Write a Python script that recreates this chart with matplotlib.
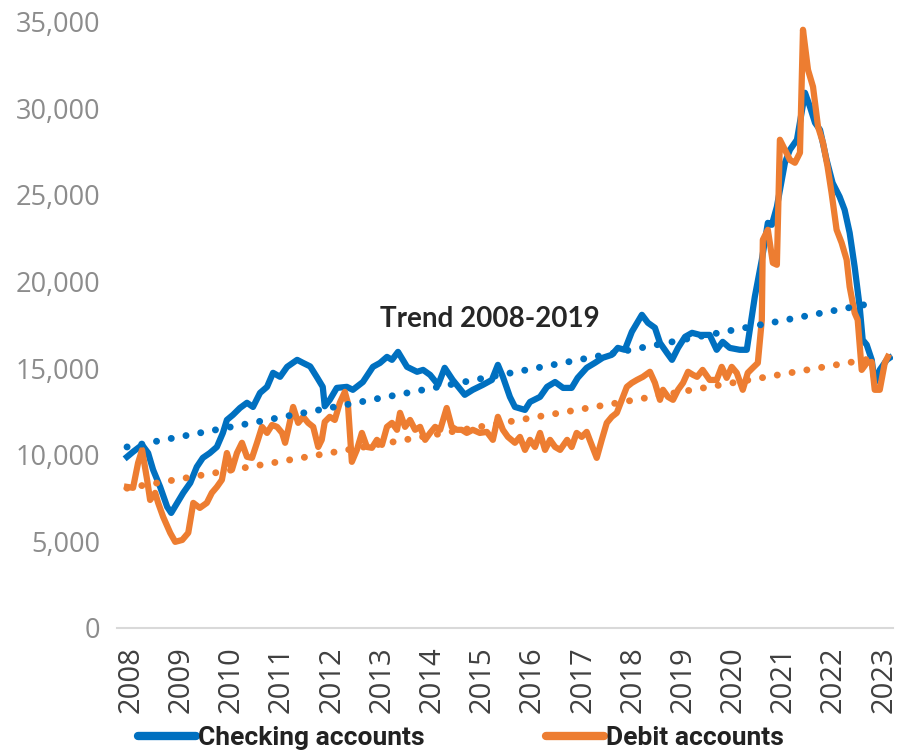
import matplotlib
matplotlib.use("Agg")
import matplotlib.pyplot as plt
from matplotlib.lines import Line2D
from matplotlib.ticker import FuncFormatter

# monthly-ish readings, x in decimal years
chk_x = [2007.92, 2008.04, 2008.22, 2008.34, 2008.44, 2008.58, 2008.72, 2008.80, 2008.92, 2009.04,
         2009.18, 2009.31, 2009.43, 2009.57, 2009.71, 2009.83, 2009.91, 2010.03, 2010.17, 2010.31,
         2010.43, 2010.57, 2010.71, 2010.83, 2010.97, 2011.11, 2011.31, 2011.43, 2011.57, 2011.71,
         2011.82, 2011.86, 2011.96, 2012.10, 2012.30, 2012.42, 2012.62, 2012.82, 2012.96, 2013.10,
         2013.20, 2013.32, 2013.50, 2013.70, 2013.82, 2013.96, 2014.12, 2014.25, 2014.41, 2014.65,
         2014.81, 2015.01, 2015.19, 2015.31, 2015.41, 2015.55, 2015.65, 2015.85, 2015.95, 2016.15,
         2016.29, 2016.45, 2016.61, 2016.78, 2016.90, 2017.08, 2017.24, 2017.40, 2017.58, 2017.70,
         2017.84, 2017.98, 2018.18, 2018.30, 2018.44, 2018.54, 2018.68, 2018.78, 2018.90, 2019.04,
         2019.18, 2019.34, 2019.53, 2019.67, 2019.79, 2019.93, 2020.13, 2020.27, 2020.33, 2020.43,
         2020.57, 2020.69, 2020.77, 2020.87, 2021.03, 2021.13, 2021.27, 2021.43, 2021.53, 2021.63,
         2021.73, 2021.86, 2021.98, 2022.12, 2022.22, 2022.32, 2022.42, 2022.52, 2022.58, 2022.66,
         2022.76, 2022.82, 2022.92, 2023.06, 2023.12]
chk_y = [9880, 10170, 10570, 10100, 9126, 8144, 6990, 6640, 7220, 7800,
         8375, 9300, 9820, 10100, 10450, 11260, 12010, 12300, 12700, 13000,
         12760, 13570, 13920, 14730, 14500, 15075, 15480, 15300, 15100, 14450,
         13920, 12800, 13170, 13860, 13920, 13750, 14200, 15075, 15300, 15650,
         15480, 15940, 15075, 14790, 14900, 14610, 14035, 15020, 14320, 13460,
         13750, 14035, 14320, 15190, 14500, 13340, 12760, 12590, 13050, 13340,
         13920, 14200, 13860, 13860, 14440, 15020, 15300, 15600, 15770, 16170,
         16060, 17100, 18080, 17620, 17330, 16460, 15880, 15480, 16170, 16810,
         17040, 16920, 16920, 16060, 16520, 16170, 16060, 16060, 17210, 19120,
         21260, 23390, 23280, 24320, 26860, 27610, 28190, 30900, 30090, 29170,
         28760, 27030, 25700, 24900, 24140, 22820, 20850, 18540, 16630, 16350,
         15480, 14150, 14900, 15480, 15600]

deb_x = [2007.92, 2008.04, 2008.14, 2008.22, 2008.32, 2008.38, 2008.48, 2008.54, 2008.64, 2008.78,
         2008.88, 2009.02, 2009.14, 2009.24, 2009.37, 2009.51, 2009.61, 2009.71, 2009.81, 2009.91,
         2010.01, 2010.11, 2010.21, 2010.31, 2010.41, 2010.51, 2010.61, 2010.71, 2010.81, 2010.91,
         2011.01, 2011.07, 2011.13, 2011.23, 2011.33, 2011.43, 2011.53, 2011.63, 2011.73, 2011.80,
         2011.86, 2011.96, 2012.06, 2012.16, 2012.26, 2012.32, 2012.40, 2012.50, 2012.60, 2012.70,
         2012.80, 2012.90, 2013.00, 2013.10, 2013.20, 2013.30, 2013.36, 2013.46, 2013.56, 2013.66,
         2013.76, 2013.86, 2013.96, 2014.06, 2014.16, 2014.29, 2014.39, 2014.49, 2014.59, 2014.69,
         2014.81, 2014.95, 2015.09, 2015.21, 2015.31, 2015.41, 2015.51, 2015.65, 2015.75, 2015.85,
         2015.95, 2016.05, 2016.15, 2016.25, 2016.35, 2016.45, 2016.55, 2016.69, 2016.78, 2016.88,
         2016.98, 2017.08, 2017.14, 2017.28, 2017.38, 2017.48, 2017.58, 2017.68, 2017.78, 2017.88,
         2017.98, 2018.08, 2018.20, 2018.34, 2018.44, 2018.54, 2018.60, 2018.70, 2018.80, 2018.90,
         2019.00, 2019.10, 2019.20, 2019.28, 2019.39, 2019.53, 2019.67, 2019.77, 2019.87, 2019.97,
         2020.07, 2020.19, 2020.29, 2020.39, 2020.49, 2020.57, 2020.59, 2020.69, 2020.79, 2020.87,
         2020.93, 2021.03, 2021.13, 2021.23, 2021.33, 2021.39, 2021.49, 2021.59, 2021.69, 2021.79,
         2021.88, 2021.96, 2022.06, 2022.16, 2022.26, 2022.32, 2022.42, 2022.48, 2022.56, 2022.66,
         2022.76, 2022.82, 2022.92, 2023.02, 2023.08]
deb_y = [8144, 8090, 9530, 10280, 8550, 7390, 7800, 7220, 6410, 5490,
         4970, 5080, 5490, 7220, 6930, 7220, 7800, 8140, 8550, 10100,
         9130, 10100, 10690, 9880, 9820, 10690, 11610, 11260, 11720, 11610,
         11260, 10690, 11440, 12760, 11840, 12190, 11840, 11610, 10450, 10860,
         11900, 12190, 12010, 13000, 13630, 13000, 9590, 10280, 11260, 10450,
         10400, 10860, 10570, 11610, 11840, 11440, 12420, 11610, 12010, 11440,
         11610, 10860, 11260, 11610, 11440, 12700, 11610, 11440, 11440, 11260,
         11440, 11260, 11320, 10860, 12190, 11440, 11030, 10690, 11030, 10280,
         10860, 10450, 11260, 10280, 10860, 10450, 10280, 10860, 10450, 11260,
         11030, 11320, 10860, 9820, 10860, 11840, 12190, 12420, 13170, 13920,
         14150, 14320, 14500, 14790, 14150, 13170, 13750, 13340, 13170, 13750,
         14150, 14790, 14610, 14500, 14900, 14320, 14320, 15075, 14440, 15075,
         14730, 13750, 14730, 15020, 15300, 17790, 22410, 22990, 21080, 20970,
         28190, 27610, 27030, 26860, 27440, 34540, 32230, 31250, 28940, 28010,
         26630, 25120, 22990, 22240, 21260, 19700, 18190, 17790, 14900, 15300,
         15360, 13750, 13750, 15300, 15650]

# 2008-2019 trend lines (end points)
trend_x = [2007.92, 2022.86]
chk_trend = [10450, 18800]
deb_trend = [8070, 15600]

years = list(range(2008, 2024))
yticks = [0, 5000, 10000, 15000, 20000, 25000, 30000, 35000]

BLUE = "#0070C0"
ORANGE = "#ED7D31"

fig = plt.figure(figsize=(9, 7.52), dpi=100)
ax = fig.add_axes([0.13, 0.165, 0.862, 0.806])

ax.plot(chk_x, chk_y, color=BLUE, lw=4.5, solid_joinstyle="round", zorder=3)
ax.plot(deb_x, deb_y, color=ORANGE, lw=4.5, solid_joinstyle="round", zorder=4)
ax.plot(trend_x, chk_trend, color=BLUE, lw=5, dashes=(0.01, 2.15),
        dash_capstyle="round", zorder=5)
ax.plot(trend_x, deb_trend, color=ORANGE, lw=5, dashes=(0.01, 2.15),
        dash_capstyle="round", zorder=5)

ax.text(2015.15, 17390, "Trend 2008-2019", family=["Lato", "DejaVu Sans"],
        fontweight="bold", fontsize=20, color="#262626", ha="center", va="baseline")

ax.set_xlim(2007.72, 2023.18)
ax.set_ylim(0, 35000)
ax.set_xticks(years)
ax.set_xticklabels([str(y) for y in years], rotation=90, fontsize=21,
                   color="#404040", family=["Open Sans", "DejaVu Sans"])
ax.set_yticks(yticks)
ax.yaxis.set_major_formatter(FuncFormatter(lambda v, p: f"{int(v):,}"))
for lab in ax.get_yticklabels():
    lab.set_family(["Open Sans", "DejaVu Sans"])
    lab.set_fontsize(19.5)
    lab.set_color("#8c8c8c")
ax.tick_params(axis="both", length=0)
ax.tick_params(axis="x", pad=13)
ax.tick_params(axis="y", pad=12)

for s in ["top", "right", "left"]:
    ax.spines[s].set_visible(False)
ax.spines["bottom"].set_color("#d9d9d9")
ax.spines["bottom"].set_linewidth(1.5)

handles = [Line2D([], [], color=BLUE, lw=6, solid_capstyle="round"),
           Line2D([], [], color=ORANGE, lw=6, solid_capstyle="round")]
fig.legend(handles, ["Checking accounts", "Debit accounts"], ncol=2,
           loc="center left", bbox_to_anchor=(0.153, 0.018), frameon=False,
           prop={"family": ["Roboto", "DejaVu Sans"],
                 "weight": "bold", "size": 19},
           handlelength=2.2, handletextpad=0.08, columnspacing=4.6,
           borderpad=0, borderaxespad=0, labelcolor="#222222")

fig.savefig("out.png", dpi=100)
